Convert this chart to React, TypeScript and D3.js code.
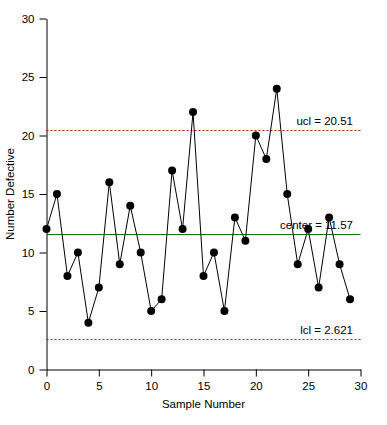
import * as d3 from 'd3';
import React, { Component } from 'react';

// sample number defective, samples 0..29
const samples = d3.range(30);
const defects = [12, 15, 8, 10, 4, 7, 16, 9, 14, 10, 5, 6, 17, 12, 22, 8, 10, 5, 13, 11, 20, 18, 24, 15, 9, 12, 7, 13, 9, 6];
const xTicks = [0, 5, 10, 15, 20, 25, 30];
const yTicks = [0, 5, 10, 15, 20, 25, 30];
const ucl = 20.51;
const center = 11.57;
const lcl = 2.621;
const limitLabels = ['ucl = 20.51', 'center = 11.57', 'lcl = 2.621'];

class ControlChart extends Component {
  private node: any;

  componentDidMount() {
    this.draw();
  }

  componentDidUpdate() {
    this.draw();
  }

  draw() {
    const svg = d3.select(this.node);
    svg.selectAll('*').remove();
    const width = 387;
    const height = 425;
    const font = 'Liberation Sans, Arial, sans-serif';
    const fontSize = '11.5px';

    svg.attr('width', width).attr('height', height);
    svg.append('rect').attr('width', width).attr('height', height).attr('fill', '#fff');

    const x = d3.scaleLinear().domain([0, 30]).range([46.5, 360.5]);
    const y = d3.scaleLinear().domain([0, 30]).range([369.5, 18.5]);

    // axes
    const xAxis = d3
      .axisBottom(x)
      .tickValues(xTicks)
      .tickSizeInner(7)
      .tickSizeOuter(0)
      .tickPadding(5);
    const yAxis = d3
      .axisLeft(y)
      .tickValues(yTicks)
      .tickSizeInner(7)
      .tickSizeOuter(0)
      .tickPadding(5);

    const gx = svg.append('g').attr('transform', 'translate(0,' + y(0) + ')');
    gx.call(
      d3.axisBottom(x).tickValues(d3.range(0, 31)).tickSize(4).tickSizeOuter(0).tickFormat(() => '')
    );
    gx.call(xAxis);
    const gy = svg.append('g').attr('transform', 'translate(' + x(0) + ',0)');
    gy.call(
      d3.axisLeft(y).tickValues(d3.range(0, 31)).tickSize(4).tickSizeOuter(0).tickFormat(() => '')
    );
    gy.call(yAxis);

    svg.selectAll('.domain').attr('stroke', '#000');
    svg.selectAll('.tick line').attr('stroke', '#000');
    svg
      .selectAll('.tick text')
      .attr('fill', '#000')
      .style('font-family', font)
      .style('font-size', fontSize);

    // control limits
    [ucl, lcl].forEach((v) => {
      svg
        .append('line')
        .attr('x1', x(0))
        .attr('x2', x(30))
        .attr('y1', Math.round(y(v)) + 0.5)
        .attr('y2', Math.round(y(v)) + 0.5)
        .attr('stroke', '#e00000')
        .attr('stroke-dasharray', '2,2');
    });
    svg
      .append('line')
      .attr('x1', x(0))
      .attr('x2', x(30))
      .attr('y1', Math.round(y(center)) + 0.5)
      .attr('y2', Math.round(y(center)) + 0.5)
      .attr('stroke', '#008000');

    [ucl, center, lcl].forEach((v, i) => {
      svg
        .append('text')
        .attr('x', 353)
        .attr('y', y(v) - 5)
        .attr('text-anchor', 'end')
        .style('font-family', font)
        .style('font-size', fontSize)
        .text(limitLabels[i]);
    });

    // data line and markers
    const line = d3
      .line<number>()
      .x((d, i) => x(samples[i]))
      .y((d) => y(d));
    svg
      .append('path')
      .attr('d', line(defects))
      .attr('fill', 'none')
      .attr('stroke', '#000');
    svg
      .selectAll('circle.pt')
      .data(defects)
      .enter()
      .append('circle')
      .attr('class', 'pt')
      .attr('cx', (d, i) => x(samples[i]))
      .attr('cy', (d) => y(d))
      .attr('r', 4)
      .attr('fill', '#000');

    // axis titles
    svg
      .append('text')
      .attr('x', (x(0) + x(30)) / 2)
      .attr('y', 408)
      .attr('text-anchor', 'middle')
      .style('font-family', font)
      .style('font-size', fontSize)
      .text('Sample Number');
    svg
      .append('text')
      .attr('transform', 'translate(14,' + (y(0) + y(30)) / 2 + ') rotate(-90)')
      .attr('text-anchor', 'middle')
      .style('font-family', font)
      .style('font-size', fontSize)
      .text('Number Defective');
  }

  render() {
    return (
      <svg
        ref={(node) => (this.node = node)}
        style={{ position: 'absolute', left: 0, top: 0, display: 'block' }}
      />
    );
  }
}

export default function App() {
  return <ControlChart />;
}
